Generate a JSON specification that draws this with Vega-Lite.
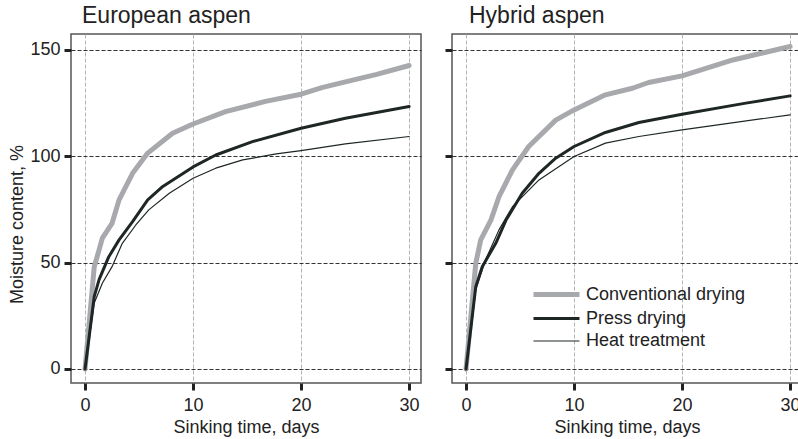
{
  "$schema": "https://vega.github.io/schema/vega-lite/v6.json",
  "padding": {"left": 7, "top": 4, "right": 0, "bottom": 0},
  "background": "white",
  "spacing": 31,
  "bounds": "flush",
  "config": {
    "font": "Liberation Sans",
    "view": {"stroke": "#555555", "strokeWidth": 1.5},
    "axis": {
      "domain": false,
      "grid": true,
      "gridDash": [4, 2],
      "gridWidth": 1,
      "tickColor": "#222222",
      "tickWidth": 3,
      "tickSize": 7,
      "labelFontSize": 18,
      "labelColor": "#222222",
      "titleFontSize": 18,
      "titleFontWeight": "normal",
      "titleColor": "#222222"
    },
    "axisX": {"gridColor": "#b3b3b3", "labelPadding": 6},
    "axisY": {"gridColor": "#333333", "labelPadding": 4},
    "title": {"fontSize": 23, "fontWeight": "normal", "color": "#222222", "anchor": "start", "frame": "group"},
    "legend": {
      "orient": "none",
      "legendX": 473,
      "legendY": 248,
      "title": null,
      "labelFontSize": 18,
      "labelColor": "#222222",
      "symbolType": "M-2.3,0H2.3",
      "symbolSize": 400,
      "labelOffset": 17,
      "rowPadding": 2
    }
  },
  "data": {
    "values": [
      {"species": "European aspen", "method": "Conventional drying", "day": 0, "mc": 0},
      {"species": "European aspen", "method": "Conventional drying", "day": 0.85, "mc": 48},
      {"species": "European aspen", "method": "Conventional drying", "day": 1.3, "mc": 56},
      {"species": "European aspen", "method": "Conventional drying", "day": 1.6, "mc": 61.5},
      {"species": "European aspen", "method": "Conventional drying", "day": 2.5, "mc": 68.5},
      {"species": "European aspen", "method": "Conventional drying", "day": 3.15, "mc": 79.5},
      {"species": "European aspen", "method": "Conventional drying", "day": 4.4, "mc": 92},
      {"species": "European aspen", "method": "Conventional drying", "day": 5.8, "mc": 101.5},
      {"species": "European aspen", "method": "Conventional drying", "day": 8.1, "mc": 110.8},
      {"species": "European aspen", "method": "Conventional drying", "day": 10, "mc": 115.2},
      {"species": "European aspen", "method": "Conventional drying", "day": 13, "mc": 121},
      {"species": "European aspen", "method": "Conventional drying", "day": 16.7, "mc": 125.8},
      {"species": "European aspen", "method": "Conventional drying", "day": 20, "mc": 129.2},
      {"species": "European aspen", "method": "Conventional drying", "day": 22, "mc": 132.4},
      {"species": "European aspen", "method": "Conventional drying", "day": 24.1, "mc": 135},
      {"species": "European aspen", "method": "Conventional drying", "day": 27, "mc": 138.5},
      {"species": "European aspen", "method": "Conventional drying", "day": 30, "mc": 142.7},
      {"species": "European aspen", "method": "Press drying", "day": 0, "mc": 0},
      {"species": "European aspen", "method": "Press drying", "day": 0.85, "mc": 34},
      {"species": "European aspen", "method": "Press drying", "day": 1.3, "mc": 42},
      {"species": "European aspen", "method": "Press drying", "day": 2.2, "mc": 52.8},
      {"species": "European aspen", "method": "Press drying", "day": 3.15, "mc": 60.7},
      {"species": "European aspen", "method": "Press drying", "day": 4.4, "mc": 69.3},
      {"species": "European aspen", "method": "Press drying", "day": 5.8, "mc": 79.5},
      {"species": "European aspen", "method": "Press drying", "day": 7.2, "mc": 85.8},
      {"species": "European aspen", "method": "Press drying", "day": 10, "mc": 95},
      {"species": "European aspen", "method": "Press drying", "day": 12.1, "mc": 100.6},
      {"species": "European aspen", "method": "Press drying", "day": 15.5, "mc": 106.9},
      {"species": "European aspen", "method": "Press drying", "day": 20, "mc": 113.2},
      {"species": "European aspen", "method": "Press drying", "day": 24.1, "mc": 117.9},
      {"species": "European aspen", "method": "Press drying", "day": 30, "mc": 123.4},
      {"species": "European aspen", "method": "Heat treatment", "day": 0, "mc": 0},
      {"species": "European aspen", "method": "Heat treatment", "day": 0.85, "mc": 31},
      {"species": "European aspen", "method": "Heat treatment", "day": 1.6, "mc": 40.3},
      {"species": "European aspen", "method": "Heat treatment", "day": 2.5, "mc": 48.1},
      {"species": "European aspen", "method": "Heat treatment", "day": 3.45, "mc": 59.1},
      {"species": "European aspen", "method": "Heat treatment", "day": 4.7, "mc": 67.7},
      {"species": "European aspen", "method": "Heat treatment", "day": 5.9, "mc": 74.8},
      {"species": "European aspen", "method": "Heat treatment", "day": 7.8, "mc": 82.6},
      {"species": "European aspen", "method": "Heat treatment", "day": 10, "mc": 89.7},
      {"species": "European aspen", "method": "Heat treatment", "day": 12.1, "mc": 94.4},
      {"species": "European aspen", "method": "Heat treatment", "day": 14.6, "mc": 98.3},
      {"species": "European aspen", "method": "Heat treatment", "day": 17.7, "mc": 101.1},
      {"species": "European aspen", "method": "Heat treatment", "day": 20, "mc": 102.7},
      {"species": "European aspen", "method": "Heat treatment", "day": 24.1, "mc": 105.8},
      {"species": "European aspen", "method": "Heat treatment", "day": 30, "mc": 109.3},
      {"species": "Hybrid aspen", "method": "Conventional drying", "day": 0, "mc": 0},
      {"species": "Hybrid aspen", "method": "Conventional drying", "day": 0.9, "mc": 49.7},
      {"species": "Hybrid aspen", "method": "Conventional drying", "day": 1.36, "mc": 60.7},
      {"species": "Hybrid aspen", "method": "Conventional drying", "day": 2.3, "mc": 70},
      {"species": "Hybrid aspen", "method": "Conventional drying", "day": 3.05, "mc": 81},
      {"species": "Hybrid aspen", "method": "Conventional drying", "day": 4.3, "mc": 93.6},
      {"species": "Hybrid aspen", "method": "Conventional drying", "day": 5.8, "mc": 104.6},
      {"species": "Hybrid aspen", "method": "Conventional drying", "day": 8.3, "mc": 117},
      {"species": "Hybrid aspen", "method": "Conventional drying", "day": 10, "mc": 121.8},
      {"species": "Hybrid aspen", "method": "Conventional drying", "day": 12.9, "mc": 128.9},
      {"species": "Hybrid aspen", "method": "Conventional drying", "day": 15.4, "mc": 132},
      {"species": "Hybrid aspen", "method": "Conventional drying", "day": 16.9, "mc": 134.7},
      {"species": "Hybrid aspen", "method": "Conventional drying", "day": 20, "mc": 137.8},
      {"species": "Hybrid aspen", "method": "Conventional drying", "day": 24.7, "mc": 145.3},
      {"species": "Hybrid aspen", "method": "Conventional drying", "day": 30, "mc": 151.6},
      {"species": "Hybrid aspen", "method": "Press drying", "day": 0, "mc": 0},
      {"species": "Hybrid aspen", "method": "Press drying", "day": 0.9, "mc": 38.7},
      {"species": "Hybrid aspen", "method": "Press drying", "day": 1.5, "mc": 48.1},
      {"species": "Hybrid aspen", "method": "Press drying", "day": 2.75, "mc": 59.1},
      {"species": "Hybrid aspen", "method": "Press drying", "day": 3.7, "mc": 70},
      {"species": "Hybrid aspen", "method": "Press drying", "day": 5.2, "mc": 82.6},
      {"species": "Hybrid aspen", "method": "Press drying", "day": 6.75, "mc": 92},
      {"species": "Hybrid aspen", "method": "Press drying", "day": 8.3, "mc": 99.1},
      {"species": "Hybrid aspen", "method": "Press drying", "day": 10, "mc": 104.6},
      {"species": "Hybrid aspen", "method": "Press drying", "day": 12.9, "mc": 111.2},
      {"species": "Hybrid aspen", "method": "Press drying", "day": 16, "mc": 115.9},
      {"species": "Hybrid aspen", "method": "Press drying", "day": 20, "mc": 119.8},
      {"species": "Hybrid aspen", "method": "Press drying", "day": 25.9, "mc": 125},
      {"species": "Hybrid aspen", "method": "Press drying", "day": 30, "mc": 128.4},
      {"species": "Hybrid aspen", "method": "Heat treatment", "day": 0, "mc": 0},
      {"species": "Hybrid aspen", "method": "Heat treatment", "day": 0.9, "mc": 37.2},
      {"species": "Hybrid aspen", "method": "Heat treatment", "day": 1.8, "mc": 51.3},
      {"species": "Hybrid aspen", "method": "Heat treatment", "day": 3.05, "mc": 65.4},
      {"species": "Hybrid aspen", "method": "Heat treatment", "day": 4.3, "mc": 76.3},
      {"species": "Hybrid aspen", "method": "Heat treatment", "day": 6.75, "mc": 88.9},
      {"species": "Hybrid aspen", "method": "Heat treatment", "day": 10, "mc": 99.9},
      {"species": "Hybrid aspen", "method": "Heat treatment", "day": 12.9, "mc": 106.2},
      {"species": "Hybrid aspen", "method": "Heat treatment", "day": 16, "mc": 109.3},
      {"species": "Hybrid aspen", "method": "Heat treatment", "day": 20, "mc": 112.4},
      {"species": "Hybrid aspen", "method": "Heat treatment", "day": 30, "mc": 119.5}
    ]
  },
  "hconcat": [
    {
      "width": 350,
      "height": 349,
      "title": {"text": "European aspen", "dx": 11, "offset": 6},
      "transform": [{"filter": "datum.species === 'European aspen'"}],
      "mark": {"type": "line", "strokeCap": "round", "strokeJoin": "round"},
      "encoding": {
        "x": {"field": "day", "type": "quantitative", "scale": {"domain": [-1.3, 31.1], "nice": false, "zero": false},
              "axis": {"values": [0, 10, 20, 30], "title": "Sinking time, days", "titleBaseline": "alphabetic", "titleY": 49}},
        "y": {"field": "mc", "type": "quantitative", "scale": {"domain": [-6.6, 157.5], "nice": false, "zero": false},
              "axis": {"values": [0, 50, 100, 150], "title": "Moisture content, %", "titleBaseline": "alphabetic", "titleX": -49, "titleY": 190}},
        "color": {"field": "method", "type": "nominal",
                  "scale": {"domain": ["Conventional drying", "Press drying", "Heat treatment"], "range": ["#a7a9ac", "#1e2626", "#1e2626"]}},
        "strokeWidth": {"field": "method", "type": "nominal",
                  "scale": {"type": "ordinal", "domain": ["Conventional drying", "Press drying", "Heat treatment"], "range": [5, 3, 1.2]}}
      }
    },
    {
      "width": 350,
      "height": 349,
      "title": {"text": "Hybrid aspen", "dx": 17, "offset": 6},
      "transform": [{"filter": "datum.species === 'Hybrid aspen'"}],
      "mark": {"type": "line", "strokeCap": "round", "strokeJoin": "round"},
      "encoding": {
        "x": {"field": "day", "type": "quantitative", "scale": {"domain": [-1.3, 31.1], "nice": false, "zero": false},
              "axis": {"values": [0, 10, 20, 30], "title": "Sinking time, days", "titleBaseline": "alphabetic", "titleY": 49}},
        "y": {"field": "mc", "type": "quantitative", "scale": {"domain": [-6.6, 157.5], "nice": false, "zero": false},
              "axis": {"values": [0, 50, 100, 150], "labels": false, "title": null}},
        "color": {"field": "method", "type": "nominal",
                  "scale": {"domain": ["Conventional drying", "Press drying", "Heat treatment"], "range": ["#a7a9ac", "#1e2626", "#1e2626"]}},
        "strokeWidth": {"field": "method", "type": "nominal",
                  "scale": {"type": "ordinal", "domain": ["Conventional drying", "Press drying", "Heat treatment"], "range": [5, 3, 1.2]}}
      }
    }
  ]
}
